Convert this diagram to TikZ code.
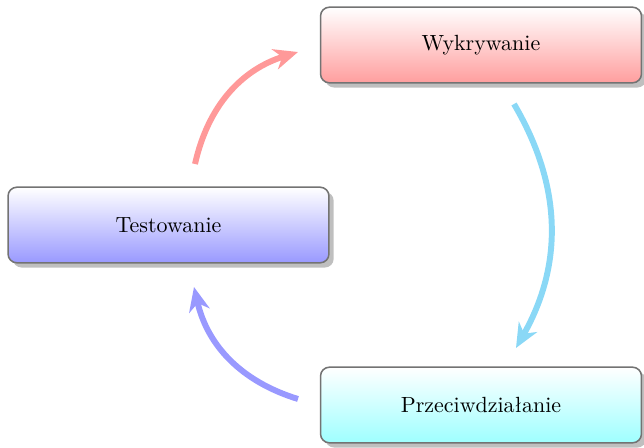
\documentclass[tikz,border=0pt]{standalone}
\usetikzlibrary{shadows,arrows.meta,calc}
\definecolor{skyarrow}{RGB}{138,216,246}
\tikzset{
  phase/.style={draw=black!55, line width=0.7pt, rounded corners=4pt,
    minimum width=146pt, minimum height=34.4pt, drop shadow, font=\normalsize},
  cyc/.style={line width=2.7pt, bend left=30,
    -{Stealth[length=11pt,width=9.5pt,inset=3.5pt]}},
}
\begin{document}
\begin{tikzpicture}[x=0.455pt,y=-0.455pt]
\useasboundingbox (0,0) rectangle (644,447);
\node[phase, top color=white, bottom color=red!38] (wyk) at (481,45) {Wykrywanie};
\node[phase, top color=white, bottom color=blue!40] (test) at (168.5,225) {Testowanie};
\node[phase, top color=white, bottom color=cyan!38] (prz) at (481,405) {Przeciwdziałanie};
\coordinate (r1) at (195,164);
\coordinate (r2) at (298,52);
\coordinate (c1) at (514,104);
\coordinate (c2) at (516,348);
\coordinate (b1) at (298,399);
\coordinate (b2) at (194,287);
\draw[cyc, draw=red!40, color=red!40] (r1) to (r2);
\draw[cyc, draw=skyarrow, color=skyarrow] (c1) to (c2);
\draw[cyc, draw=blue!40, color=blue!40] (b1) to (b2);
\end{tikzpicture}
\end{document}
